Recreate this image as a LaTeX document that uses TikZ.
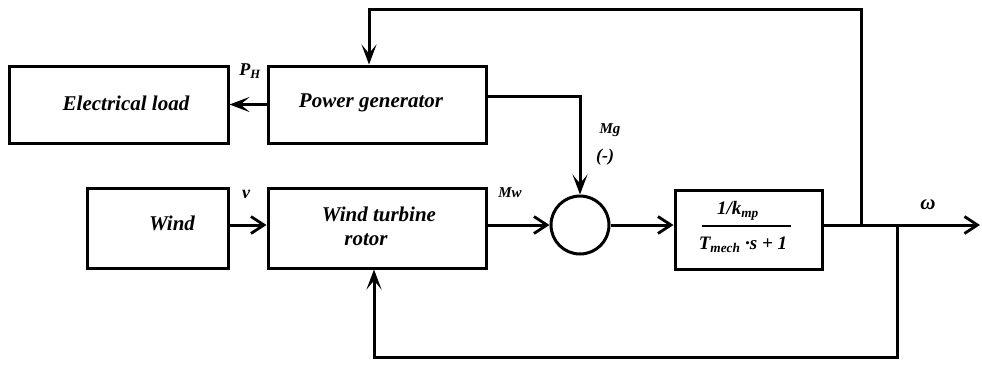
\documentclass[tikz,border=0pt]{standalone}
\usepackage{fontspec}
\setmainfont{Liberation Serif}
\usetikzlibrary{arrows.meta}
\begin{document}
\begin{tikzpicture}[x=1pt,y=-1pt,
  blk/.style={draw,line width=3pt,inner sep=0pt},
  lbl/.style={font=\fontsize{21}{23}\selectfont\bfseries\itshape,inner sep=0pt,align=center},
  sml/.style={font=\fontsize{15}{17}\selectfont\bfseries\itshape,inner sep=0pt},
  frac/.style={font=\fontsize{19}{21}\selectfont\bfseries\itshape,inner sep=0pt},
  wire/.style={line width=3pt},
  barb/.style={wire,-{Straight Barb[length=13pt,width=17pt,line width=2.8pt]}},
  heavy/.style={wire,-{Stealth[length=20pt,width=15pt,inset=9pt]}}]
\useasboundingbox (0,0) rectangle (982,364);
% blocks
\node[blk,minimum width=219,minimum height=77] (load) at (118.5,104.5) {};
\node[blk,minimum width=218,minimum height=77] (gen) at (377,104.5) {};
\node[blk,minimum width=141,minimum height=80] (wind) at (157.5,228) {};
\node[blk,minimum width=218,minimum height=80] (rotor) at (377,228) {};
\node[blk,circle,minimum size=58] (sum) at (580,225) {};
\node[blk,minimum width=147,minimum height=79] (tf) at (748.5,229.5) {};
% texts
\node[lbl] (tload) at (126,103) {Electrical load};
\node[lbl] (tgen) at (371,103) {Power generator};
\node[lbl] (twind) at (172,223) {Wind};
\node[lbl] (trot1) at (379,214) {Wind turbine};
\node[lbl] (trot2) at (366,240) {rotor};
\node[frac] (num) at (738,211) {1/k\textsubscript{mp}};
\draw[line width=1.5pt] (702,226) -- (791,226);
\node[frac] (den) at (743,245) {T\textsubscript{mech} ·s + 1};
% labels
\node[font=\fontsize{18}{20}\selectfont\bfseries\itshape,inner sep=0pt] (ph) at (250,71) {P\textsubscript{H}};
\node[font=\fontsize{18}{20}\selectfont\bfseries\itshape,inner sep=0pt] (v) at (246,194) {v};
\node[sml] (mw) at (510,193) {Mw};
\node[sml] (mg) at (610,130) {Mg};
\node[font=\fontsize{18}{20}\selectfont\bfseries\itshape,inner sep=0pt] (minus) at (605,157) {(-)};
\node[font=\fontsize{21}{23}\selectfont\bfseries\itshape,inner sep=0pt] (om) at (928,205) {ω};
% coordinates
\coordinate (j1) at (861,225);
\coordinate (j2) at (897,225);
\coordinate (out) at (980,225);
\coordinate (top) at (0,9);
\coordinate (bot) at (0,357);
% connectors
\draw[heavy] (gen.west) -- (load.east);
\draw[barb] ([yshift=3pt]wind.east) -- ([yshift=3pt]rotor.west);
\draw[barb] ([yshift=3pt]rotor.east) -- (sum.west);
\draw[heavy] ([yshift=8pt]gen.east) -| (sum.north);
\draw[barb] (sum.east) -- (sum.east -| tf.west);
\draw[barb] (tf.east |- sum.east) -- (out);
\draw[heavy] (j1) -- (j1 |- top) -| ([xshift=-8pt]gen.north);
\draw[heavy] (j2) -- (j2 |- bot) -| ([xshift=-3pt]rotor.south);
\end{tikzpicture}
\end{document}
